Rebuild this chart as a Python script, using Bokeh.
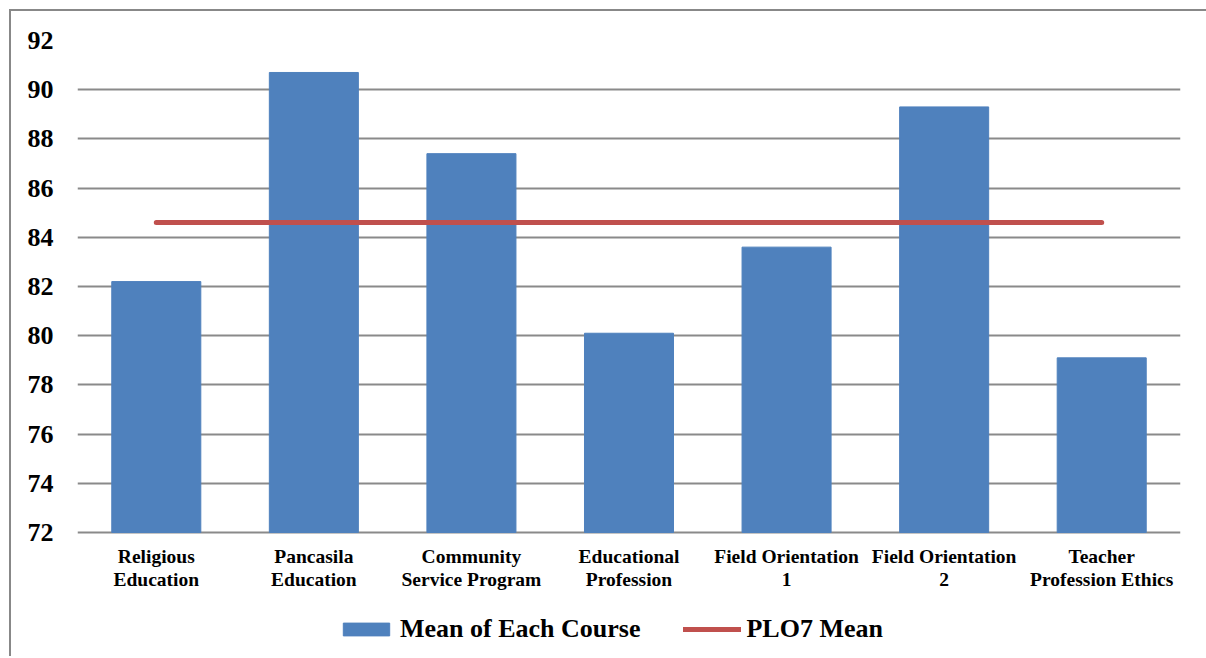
from bokeh.plotting import figure
from bokeh.models import FixedTicker, Legend, LegendItem, ColumnDataSource
from bokeh.core.properties import value
from bokeh.embed import file_html
from bokeh.resources import INLINE

courses = [
    "Religious\nEducation",
    "Pancasila\nEducation",
    "Community\nService Program",
    "Educational\nProfession",
    "Field Orientation\n1",
    "Field Orientation\n2",
    "Teacher\nProfession Ethics",
]
course_means = [82.2, 90.7, 87.4, 80.1, 83.6, 89.3, 79.1]
plo7_mean = 84.6
y_min, y_max = 72, 92
y_ticks = [72, 74, 76, 78, 80, 82, 84, 86, 88, 90, 92]
series_names = ["Mean of Each Course", "PLO7 Mean"]

FONT = "Liberation Serif"
BAR = "#4F81BD"
RED = "#C0504D"
GRID = "#8A8A8A"

# frame extends below the value axis to hold category labels and legend
px_per_unit = 492 / (y_max - y_min)
y_start = y_min - 118 / px_per_unit

p = figure(
    x_range=courses, y_range=(y_start, y_max),
    frame_width=1103, frame_height=610,
    output_backend="svg", toolbar_location=None,
    x_axis_location=None,
    min_border_left=66, min_border_right=26,
    min_border_top=29, min_border_bottom=6,
)
p.styles = {"margin-left": "9px", "margin-top": "9px",
            "border-top": "2px solid #888888", "border-left": "2px solid #888888"}
p.outline_line_color = None
p.background_fill_color = "white"
p.border_fill_color = "white"

src = ColumnDataSource(dict(x=courses, y=course_means))
bars = p.vbar(x="x", top="y", bottom=y_min, width=0.565, source=src,
              fill_color=BAR, line_color=BAR)
line = p.line(x=courses, y=[plo7_mean] * len(courses), line_color=RED,
              line_width=5, line_cap="round")

# category labels under the value axis
p.text(x=courses, y=[y_min] * len(courses), text=courses,
       text_font=value(FONT), text_font_style="bold", text_font_size="19.5px",
       text_color="black", text_align="center", text_baseline="top",
       text_line_height=1.1, y_offset=13)

# grids
p.xgrid.grid_line_color = None
p.ygrid.ticker = FixedTicker(ticks=y_ticks)
p.ygrid.grid_line_color = GRID
p.ygrid.grid_line_width = 2
p.ygrid.level = "underlay"

# y axis
p.yaxis.ticker = FixedTicker(ticks=y_ticks)
p.yaxis.axis_line_color = None
p.yaxis.major_tick_line_color = None
p.yaxis.minor_tick_line_color = None
p.yaxis.major_tick_out = 0
p.yaxis.major_tick_in = 0
p.yaxis.major_label_standoff = 24
p.yaxis.major_label_text_font = FONT
p.yaxis.major_label_text_font_style = "bold"
p.yaxis.major_label_text_font_size = "26px"
p.yaxis.major_label_text_color = "black"

legend = Legend(
    items=[LegendItem(label=series_names[0], renderers=[bars]),
           LegendItem(label=series_names[1], renderers=[line])],
    orientation="horizontal",
    location=(260, 6),
    glyph_width=58, glyph_height=16,
    label_standoff=5, spacing=43,
    padding=0, margin=0,
    border_line_color=None, background_fill_alpha=0,
    label_text_font=FONT, label_text_font_style="bold",
    label_text_font_size="26px", label_text_color="black",
)
p.add_layout(legend, "center")

open("out.html", "w").write(file_html(p, INLINE))
